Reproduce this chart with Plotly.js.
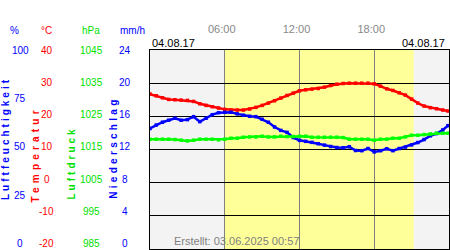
<!DOCTYPE html>
<html>
<head>
<meta charset="utf-8">
<script src="https://cdn.plot.ly/plotly-3.0.1.min.js"></script>
<style>
html,body{margin:0;padding:0;background:#fff;}
#chart{width:450px;height:250px;}
.annotation[data-index="0"] .annotation-text{letter-spacing:3px;}
.annotation[data-index="1"] .annotation-text{letter-spacing:4.2px;}
.annotation[data-index="2"] .annotation-text{letter-spacing:3px;}
.annotation[data-index="3"] .annotation-text{letter-spacing:3.3px;}
</style>
</head>
<body>
<div id="chart"></div>
<script>
// ---- data ----
var day = "2017-08-04";
var times = ["00:00","00:30","01:00","01:30","02:00","02:30","03:00","03:30","04:00","04:30",
  "05:00","05:30","06:00","06:30","07:00","07:30","08:00","08:30","09:00","09:30",
  "10:00","10:30","11:00","11:30","12:00","12:30","13:00","13:30","14:00","14:30",
  "15:00","15:30","16:00","16:30","17:00","17:30","18:00","18:30","19:00","19:30",
  "20:00","20:30","21:00","21:30","22:00","22:30","23:00","23:30","23:55"];
var temperature = [26.7,26.2,25.6,25.1,25.0,24.9,24.8,24.5,23.8,23.3,
  22.9,22.5,22.1,21.9,21.9,21.9,22.2,22.7,23.3,24.0,
  24.7,25.5,26.3,27.0,27.7,28.0,28.2,28.4,28.8,29.3,
  29.7,29.9,30.0,30.0,30.0,30.0,29.8,29.1,28.3,27.8,
  27.1,26.4,25.2,24.0,23.1,22.6,22.3,21.9,21.6];
var humidity = [60.6,62.3,63.7,64.7,65.7,64.7,65.0,66.5,64.0,65.7,
  67.5,68.5,68.7,68.7,67.9,67.2,66.7,66.5,65.2,63.7,
  61.3,59.6,58.6,56.0,54.6,54.1,53.6,52.9,52.2,51.5,
  51.0,50.9,51.4,49.5,49.4,50.5,48.8,49.4,50.4,49.4,
  50.5,51.2,52.3,53.5,55.0,56.9,58.0,59.8,62.0];
var pressure = [1018.1,1018.1,1018.1,1018.1,1018.0,1017.8,1017.6,1017.8,1018.1,1018.1,
  1018.1,1017.9,1018.1,1018.4,1018.4,1018.7,1018.8,1018.8,1019.0,1018.8,
  1018.8,1019.0,1018.9,1018.9,1019.0,1019.0,1018.7,1018.7,1018.7,1018.7,
  1018.7,1018.6,1018.1,1018.1,1018.1,1018.1,1017.8,1018.1,1018.1,1018.4,
  1018.4,1018.8,1019.3,1019.3,1019.5,1019.7,1019.9,1019.9,1019.9];
var sunrise = "05:58", sunset = "21:10";
var hourTicks = ["06:00","12:00","18:00"];
var humidityTicks = [0,25,50,75,100];
var temperatureTicks = [-20,-10,0,10,20,30,40];
var pressureTicks = [985,995,1005,1015,1025,1035,1045];
var precipTicks = [0,4,8,12,16,20,24];
var dateLabel = "04.08.17";
var createdLabel = "Erstellt: 03.06.2025 00:57";

// ---- build ----
var xs = times.map(function(t){return day+" "+t;});
var BLUE="#0000ff", RED="#ff0000", GREEN="#00ff00", GREENTXT="#00e000";
var FONT="Liberation Sans, Arial, sans-serif";

function series(y, axis, color){
  return {x:xs, y:y, yaxis:axis, type:"scatter", mode:"lines+markers",
    line:{color:color, width:2.5}, marker:{symbol:"square", size:3.5, color:color},
    hoverinfo:"skip", showlegend:false};
}
var traces = [
  series(pressure, "y3", GREEN),
  series(humidity, "y2", BLUE),
  series(temperature, "y", RED)
];

var ann = [];
// axis titles (indices 0..3)
function title(text, color, px, cy){
  ann.push({text:text, xref:"paper", x:0, xshift:px-150, xanchor:"center",
    yref:"paper", y:0, yshift:249-cy, yanchor:"middle", textangle:-90, showarrow:false,
    font:{family:FONT, size:10, color:color, weight:"bold"}});
}
title("Luftfeuchtigkeit", BLUE, 5, 138);
title("Temperatur", RED, 34.5, 155);
title("Luftdruck", GREENTXT, 71.5, 162.5);
title("Niederschlag", BLUE, 113, 148);

// unit row
function unit(text, color, px){
  ann.push({text:text, xref:"paper", x:0, xshift:px-150, xanchor:"center",
    yref:"paper", y:1, yshift:20, yanchor:"middle", showarrow:false,
    font:{family:FONT, size:10, color:color}});
}
unit("%", BLUE, 14);
unit("°C", RED, 46.5);
unit("hPa", GREENTXT, 90.5);
unit("mm/h", BLUE, 132);

// tick labels
function ticks(vals, axis, color, px){
  var mn=vals[0], mx=vals[vals.length-1];
  vals.forEach(function(v){
    var frac=(v-mn)/(mx-mn);
    ann.push({text:String(v), xref:"paper", x:0, xshift:px-150, xanchor:"center",
      yref:axis, y:v, yshift:(1-frac)*5.4, yanchor:"middle", showarrow:false,
      font:{family:FONT, size:10, color:color}});
  });
}
ticks(humidityTicks, "y2", BLUE, 20);
ticks(temperatureTicks, "y", RED, 46.5);
ticks(pressureTicks, "y3", GREENTXT, 91);
ticks(precipTicks, "y4", BLUE, 124.5);

// dates and credits
ann.push({text:dateLabel, xref:"paper", x:0, xanchor:"left", yref:"paper", y:1, yshift:7,
  yanchor:"middle", showarrow:false, font:{family:FONT, size:11, color:"#000"}});
ann.push({text:dateLabel, xref:"paper", x:1, xshift:-2, xanchor:"right", yref:"paper", y:1, yshift:7,
  yanchor:"middle", showarrow:false, font:{family:FONT, size:11, color:"#000"}});
ann.push({text:createdLabel, xref:"paper", x:0, xshift:86, xanchor:"center", yref:"paper", y:0, yshift:8,
  yanchor:"middle", showarrow:false, font:{family:FONT, size:11, color:"#808080"}});

var layout = {
  width:450, height:250,
  margin:{l:150, r:1, t:50, b:1, pad:0},
  paper_bgcolor:"#ffffff", plot_bgcolor:"#f3f3f3",
  showlegend:false,
  xaxis:{type:"date", range:[day+" 00:00", "2017-08-05 00:00"], side:"top",
    tickvals:hourTicks.map(function(t){return day+" "+t;}), ticktext:hourTicks,
    ticks:"", ticklabelstandoff:12, ticklabelshift:-3,
    tickfont:{family:FONT, size:11, color:"#888888"},
    showgrid:true, gridcolor:"#808080", gridwidth:1.2,
    showline:true, mirror:true, linecolor:"#000", linewidth:1, zeroline:false, fixedrange:true},
  yaxis:{range:[-20,40], dtick:10, tick0:-20, showticklabels:false, ticks:"",
    showgrid:true, gridcolor:"#000", gridwidth:1, zeroline:false,
    showline:true, mirror:true, linecolor:"#000", linewidth:1, fixedrange:true},
  yaxis2:{range:[0,100], overlaying:"y", visible:false, fixedrange:true},
  yaxis3:{range:[985,1045], overlaying:"y", visible:false, fixedrange:true},
  yaxis4:{range:[0,24], overlaying:"y", visible:false, fixedrange:true},
  shapes:[{type:"rect", xref:"x", yref:"paper", x0:day+" "+sunrise, x1:day+" "+sunset, y0:0, y1:1,
    fillcolor:"#ffff99", line:{width:0}, layer:"below"}],
  annotations:ann
};
Plotly.newPlot("chart", traces, layout, {displayModeBar:false, staticPlot:true});
</script>
</body>
</html>
